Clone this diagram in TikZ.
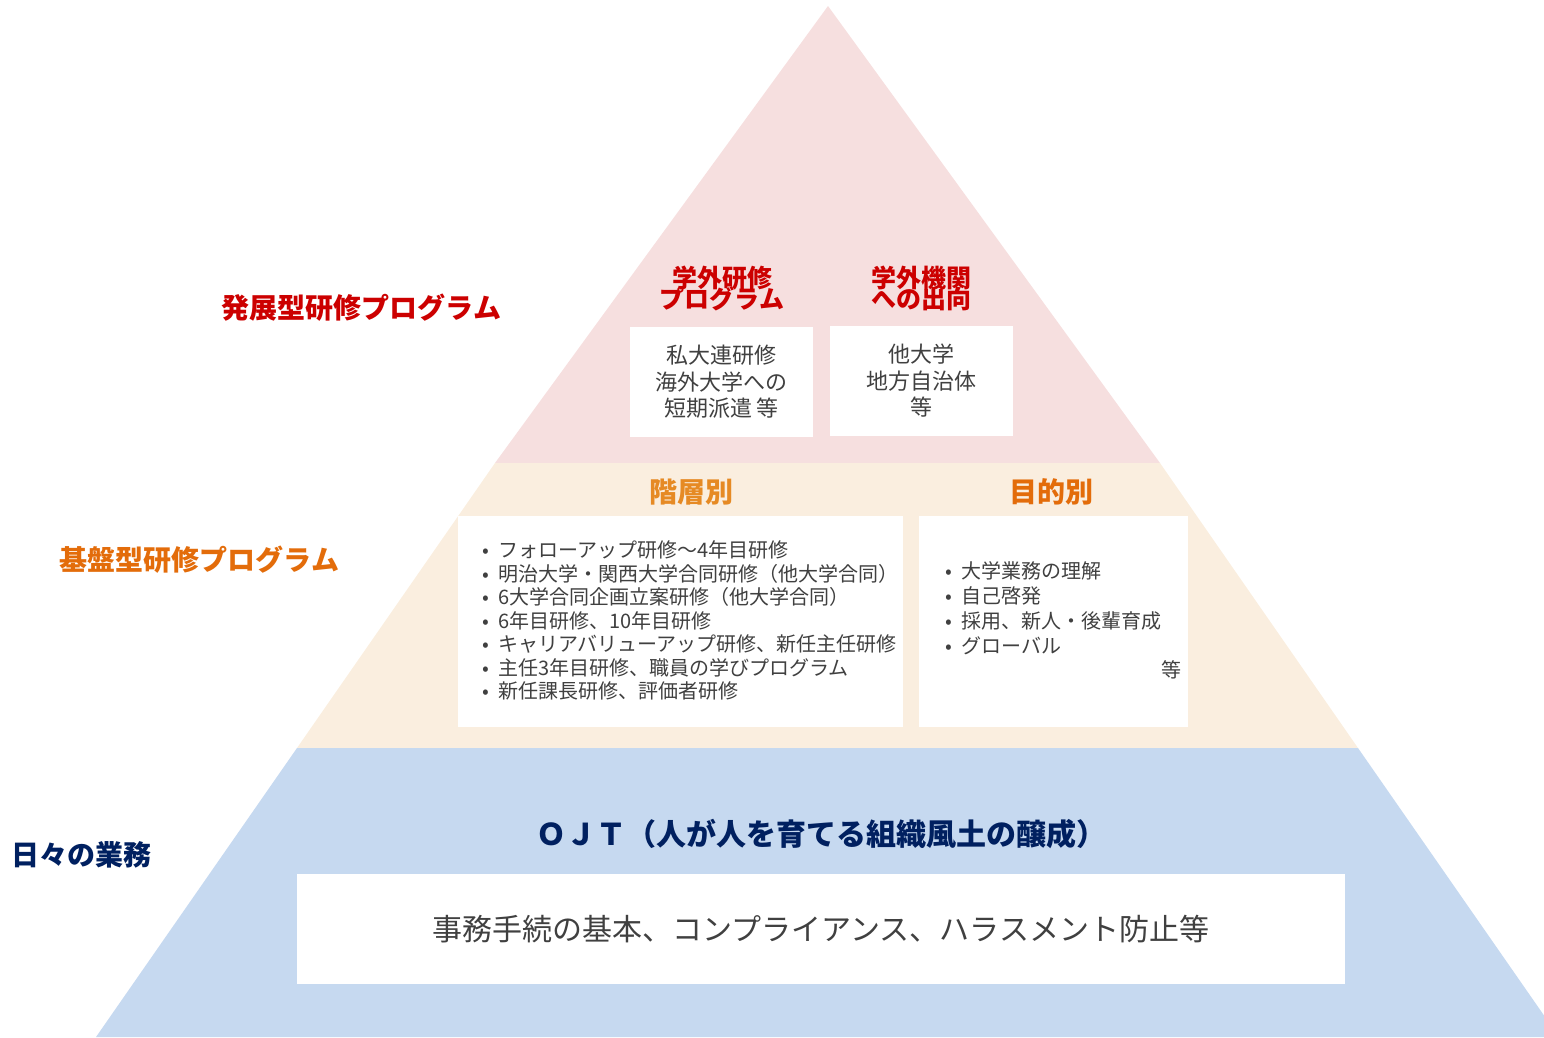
\documentclass[tikz,border=0pt]{standalone}
\usepackage{fontspec}
\setmainfont{Noto Sans CJK JP}
\definecolor{pinkbg}{RGB}{246,223,223}
\definecolor{beigebg}{RGB}{250,238,223}
\definecolor{bluebg}{RGB}{198,217,240}
\definecolor{tred}{RGB}{204,0,0}
\definecolor{torange}{RGB}{227,108,10}
\definecolor{tamber}{RGB}{230,138,36}
\definecolor{tnavy}{RGB}{0,32,96}
\definecolor{tgray}{RGB}{64,64,64}
\begin{document}
\begin{tikzpicture}[x=1pt,y=-1pt,
  wbox/.style={fill=white,draw=none,inner sep=0pt,text=tgray},
  bigtitle/.style={font=\bfseries\fontsize{28}{30}\selectfont,inner sep=0pt},
  subtitle/.style={font=\bfseries\fontsize{25}{21}\selectfont,text=tred,inner sep=0pt},
  boxtext/.style={font=\fontsize{22}{26.5}\selectfont,align=center},
  listtext/.style={font=\fontsize{20}{23.5}\selectfont,align=left,text=tgray,inner sep=0pt}]
\useasboundingbox (0,0) rectangle (1544,1037);
% pyramid layers
\fill[pinkbg] (828,6) -- (1160,463) -- (495,463) -- cycle;
\fill[beigebg] (495,463) -- (1160,463) -- (1358,748) -- (297,748) -- cycle;
\fill[bluebg] (297,748) -- (1358,748) -- (1559,1037) -- (96,1037) -- cycle;
% side labels
\node[bigtitle,text=tred] (l1) at (361.5,308) {発展型研修プログラム};
\node[bigtitle,text=torange] (l2) at (199.5,560) {基盤型研修プログラム};
\node[bigtitle,text=tnavy] (l3) at (81,855) {日々の業務};
% top layer
\node[subtitle] (t1a) at (722,278) {学外研修};
\node[subtitle] (t1b) at (722,299) {プログラム};
\node[subtitle] (t2a) at (921,278) {学外機関};
\node[subtitle] (t2b) at (921,299) {への出向};
\node[wbox,boxtext,minimum width=183,minimum height=110] (b1) at (721.5,382) {私大連研修\\海外大学への\\短期派遣 等};
\node[wbox,boxtext,minimum width=183,minimum height=110] (b2) at (921.5,381) {他大学\\地方自治体\\等};
% middle layer
\node[bigtitle,text=tamber] (m1) at (691,492) {階層別};
\node[bigtitle,text=torange] (m2) at (1051,492) {目的別};
\node[wbox,minimum width=445,minimum height=211] (b3) at (680.5,621.5) {};
\node[wbox,minimum width=269,minimum height=211] (b4) at (1053.5,621.5) {};
\node[listtext,anchor=west] (list1) at (473,620.5) {%
\makebox[25pt][c]{•}フォローアップ研修～4年目研修\\
\makebox[25pt][c]{•}明治大学・関西大学合同研修（他大学合同）\\
\makebox[25pt][c]{•}6大学合同企画立案研修（他大学合同）\\
\makebox[25pt][c]{•}6年目研修、10年目研修\\
\makebox[25pt][c]{•}キャリアバリューアップ研修、新任主任研修\\
\makebox[25pt][c]{•}主任3年目研修、職員の学びプログラム\\
\makebox[25pt][c]{•}新任課長研修、評価者研修};
\node[listtext,anchor=west,font=\fontsize{20}{25}\selectfont] (list2) at (936,608.5) {%
\makebox[25pt][c]{•}大学業務の理解\\
\makebox[25pt][c]{•}自己啓発\\
\makebox[25pt][c]{•}採用、新人・後輩育成\\
\makebox[25pt][c]{•}グローバル};
\node[listtext,font=\fontsize{20}{25}\selectfont] (etc) at (1171,670) {等};
% bottom layer
\node[bigtitle,text=tnavy,font=\bfseries\fontsize{30}{32}\selectfont] (ojt) at (821.5,834) {ＯＪＴ（人が人を育てる組織風土の醸成）};
\node[wbox,font=\fontsize{30}{32}\selectfont,minimum width=1048,minimum height=110] (b5) at (821,929) {事務手続の基本、コンプライアンス、ハラスメント防止等};
\end{tikzpicture}
\end{document}
